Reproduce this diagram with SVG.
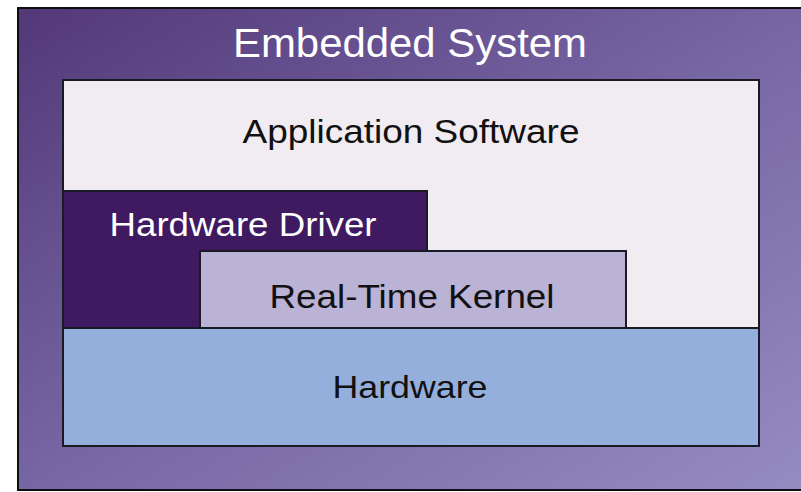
<svg xmlns="http://www.w3.org/2000/svg" width="801" height="492" viewBox="0 0 801 492">
  <defs>
    <linearGradient id="frameFill" x1="0" y1="0" x2="1" y2="1">
      <stop offset="0" stop-color="#533878"/>
      <stop offset="0.5" stop-color="#7766a4"/>
      <stop offset="1" stop-color="#958cc2"/>
    </linearGradient>
    <style>
      .layer { stroke: #1a1a24; stroke-width: 2; }
      .label { font-family: "Liberation Sans", Arial, sans-serif; text-anchor: middle; }
      .dark { fill: #111111; }
      .light { fill: #ffffff; }
    </style>
  </defs>

  <rect width="801" height="492" fill="#ffffff"/>

  <!-- outer system frame -->
  <g id="embedded-system">
    <rect x="18" y="8" width="795" height="482" fill="url(#frameFill)" stroke="#0d0d12" stroke-width="2"/>
    <text class="label light" x="410" y="57" font-size="41" textLength="354" lengthAdjust="spacingAndGlyphs">Embedded System</text>
  </g>

  <!-- application layer -->
  <g id="application-software">
    <rect class="layer" x="63" y="80" width="696" height="248" fill="#f0ecf2"/>
    <text class="label dark" x="411" y="143" font-size="33" textLength="337" lengthAdjust="spacingAndGlyphs">Application Software</text>
  </g>

  <!-- driver layer (stepped shape) -->
  <g id="hardware-driver">
    <path class="layer" d="M63 191 H427 V251 H200 V328 H63 Z" fill="#3f1a60"/>
    <text class="label light" x="243" y="236" font-size="33" textLength="267" lengthAdjust="spacingAndGlyphs">Hardware Driver</text>
  </g>

  <!-- kernel layer -->
  <g id="real-time-kernel">
    <rect class="layer" x="200" y="251" width="426" height="77" fill="#bab3d6"/>
    <text class="label dark" x="412" y="308" font-size="33" textLength="285" lengthAdjust="spacingAndGlyphs">Real-Time Kernel</text>
  </g>

  <!-- hardware layer -->
  <g id="hardware">
    <rect class="layer" x="63" y="328" width="696" height="118" fill="#95afdd"/>
    <text class="label dark" x="410" y="398" font-size="32" textLength="155" lengthAdjust="spacingAndGlyphs">Hardware</text>
  </g>

  <g id="connectors"/>
</svg>
